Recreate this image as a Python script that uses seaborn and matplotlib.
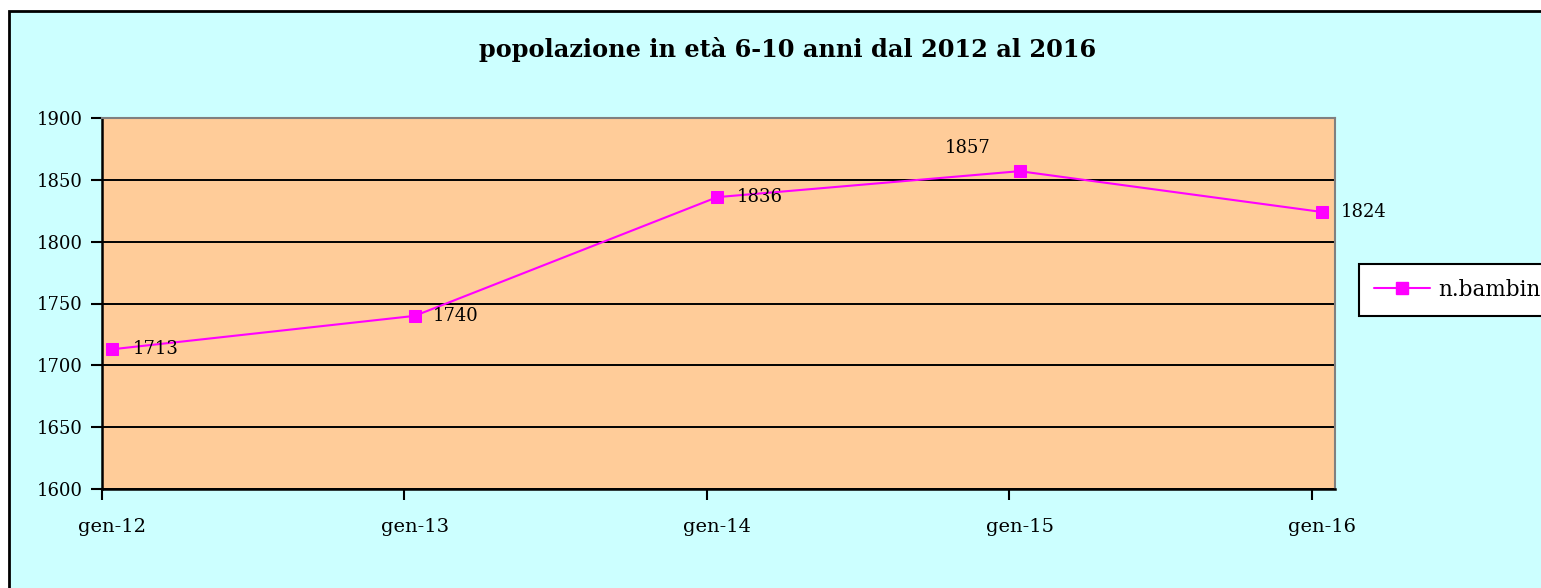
import numpy as np
import pandas as pd
import matplotlib
matplotlib.use("Agg")
import matplotlib.pyplot as plt
import seaborn as sns
from matplotlib.patches import Rectangle

# dati
mesi = ["gen-12", "gen-13", "gen-14", "gen-15", "gen-16"]
bambini = [1713, 1740, 1836, 1857, 1824]
serie = "n.bambini"

df = pd.DataFrame({"pos": np.arange(len(mesi)), "valore": bambini, "serie": serie})

sns.set_theme(style="white")
plt.rcParams['font.family'] = ['DejaVu Serif']
plt.rcParams['font.size'] = 13
plt.rcParams['text.color'] = 'black'
plt.rcParams['xtick.color'] = 'black'
plt.rcParams['ytick.color'] = 'black'

fig = plt.figure(figsize=(15.41, 5.88), dpi=100)
fig.patch.set_facecolor("white")

# cornice del grafico (sfondo azzurro)
cornice = Rectangle((9 / 1541, -0.1), 2.0, 1 - 11 / 588 + 0.1, transform=fig.transFigure,
                    facecolor="#CCFFFF", edgecolor="black", linewidth=2, zorder=-10)
fig.patches.append(cornice)

ax = fig.add_axes([102 / 1541, 1 - 489 / 588, (1335 - 102) / 1541, (489 - 118) / 588])
ax.set_zorder(1)
ax.set_facecolor("#FFCC99")

sns.lineplot(data=df, x="pos", y="valore", hue="serie", palette=["#FF00FF"], marker="s",
             markersize=8, markeredgecolor="#FF00FF", linewidth=1.5, ax=ax, legend=False, zorder=3)

ax.set_xlim(-0.033, 4.043)
ax.set_ylim(1600, 1900)
ax.set_yticks(np.arange(1600, 1901, 50))
ax.yaxis.grid(True, color="black", linewidth=1.4)
ax.set_axisbelow(True)

# tacche tra le categorie, etichette sulle categorie
ax.set_xticks(np.arange(len(mesi)) - 0.034)
ax.set_xticklabels([""] * len(mesi))
ax.set_xticks(np.arange(len(mesi)), minor=True)
ax.set_xticklabels(mesi, minor=True)
ax.tick_params(axis="x", which="major", length=8, width=1.5, color="black", direction="out", bottom=True)
ax.tick_params(axis="x", which="minor", length=0, pad=21, labelsize=14, labelcolor="black")
ax.tick_params(axis="y", length=8, width=1.5, color="black", direction="out", left=True, pad=6,
               labelsize=13, labelcolor="black")
ax.set_xlabel("")
ax.set_ylabel("")

for lato in ["left", "bottom"]:
    ax.spines[lato].set_color("black")
    ax.spines[lato].set_linewidth(1.8)
for lato in ["top", "right"]:
    ax.spines[lato].set_color("gray")
    ax.spines[lato].set_linewidth(1.5)

# etichette dei valori
offsets = [(20, 0, "left"), (18, 0, "left"), (20, 0, "left"), (-52, 23, "center"), (19, 0, "left")]
for i, v in enumerate(bambini):
    dx, dy, ha = offsets[i]
    ax.annotate(str(v), (i, v), xytext=(dx, dy), textcoords="offset pixels",
                ha=ha, va="center", fontsize=13, color="black", annotation_clip=False)

fig.text(788 / 1541, 1 - 50 / 588, "popolazione in età 6-10 anni dal 2012 al 2016",
         ha="center", va="center", fontsize=17.3, fontweight="bold", color="black")

# legenda a destra (tagliata dal bordo)
h = [plt.Line2D([], [], color="#FF00FF", marker="s", markersize=8, linewidth=1.5)]
leg = fig.legend(h, [serie], loc="center left", bbox_to_anchor=(1359 / 1541, 1 - 290 / 588),
                 frameon=True, fancybox=False, fontsize=15.5, borderpad=0.7, handlelength=2.6,
                 handletextpad=0.4, borderaxespad=0)
leg.get_frame().set_edgecolor("black")
leg.get_frame().set_linewidth(1.5)
leg.get_frame().set_facecolor("white")
leg.get_frame().set_alpha(1)

fig.savefig("out.png", dpi=100)
